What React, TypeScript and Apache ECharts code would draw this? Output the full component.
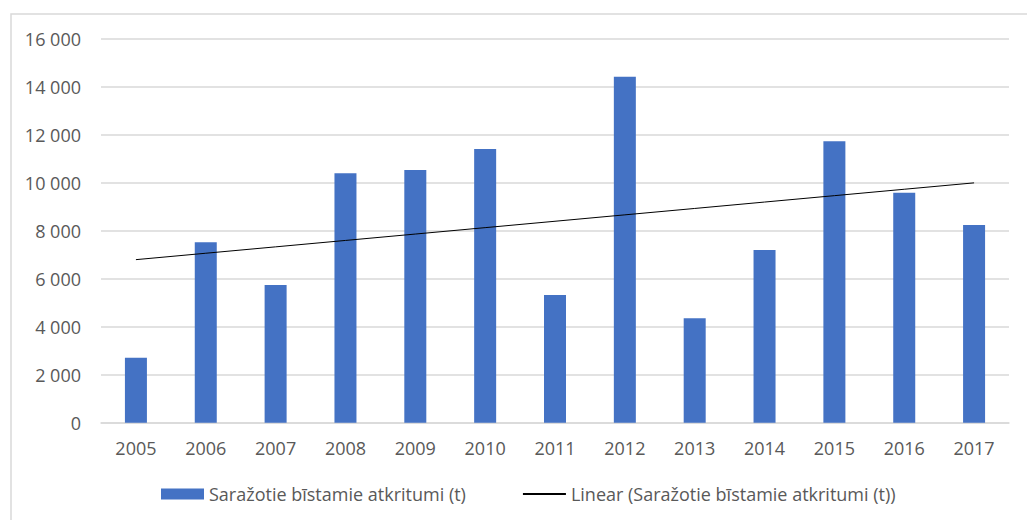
import React, { useEffect, useRef } from "react";
import * as echarts from "echarts";

const years = ["2005", "2006", "2007", "2008", "2009", "2010", "2011", "2012", "2013", "2014", "2015", "2016", "2017"];
const waste = [2710, 7510, 5730, 10390, 10520, 11400, 5320, 14410, 4350, 7190, 11720, 9580, 8230];
const barName = "Saražotie bīstamie atkritumi (t)";
const trendName = "Linear (Saražotie bīstamie atkritumi (t))";

function linearTrend(values: number[]): number[] {
  const n = values.length;
  const mx = (n - 1) / 2;
  const my = values.reduce((a, b) => a + b, 0) / n;
  let sxy = 0;
  let sxx = 0;
  values.forEach((v, i) => {
    sxy += (i - mx) * (v - my);
    sxx += (i - mx) * (i - mx);
  });
  const slope = sxy / sxx;
  return values.map((_, i) => my + slope * (i - mx));
}

const fmt = (v: number) => {
  const s = String(Math.round(v));
  return s.replace(/\B(?=(\d{3})+(?!\d))/g, " ");
};

export default function App() {
  const ref = useRef<HTMLDivElement>(null);
  useEffect(() => {
    if (!ref.current) return;
    const chart = echarts.init(ref.current, undefined, { renderer: "svg" });
    const font = "'Open Sans', 'Noto Sans', sans-serif";
    chart.setOption({
      animation: false,
      backgroundColor: "#ffffff",
      textStyle: { fontFamily: font },
      graphic: [
        {
          type: "rect",
          shape: { x: 11, y: 14, width: 1100, height: 600 },
          style: { fill: "none", stroke: "#d9d9d9", lineWidth: 1.5 },
          silent: true,
        },
      ],
      grid: { left: 101, right: 18, top: 38.5, bottom: 97.3 },
      legend: {
        left: 161,
        top: 485,
        padding: 0,
        itemWidth: 43,
        itemHeight: 11,
        itemGap: 56,
        textStyle: { color: "#595959", fontSize: 18, fontFamily: font },
        data: [
          { name: barName, icon: "rect" },
          { name: trendName, itemStyle: { opacity: 0 } },
        ],
      },
      xAxis: {
        type: "category",
        data: years,
        axisLine: { lineStyle: { color: "#d9d9d9", width: 1.5 } },
        axisTick: { show: false },
        axisLabel: { color: "#595959", fontSize: 18, margin: 16, fontFamily: font },
      },
      yAxis: {
        type: "value",
        min: 0,
        max: 16000,
        interval: 2000,
        axisLine: { show: false },
        axisTick: { show: false },
        splitLine: { lineStyle: { color: "#d9d9d9", width: 1.5 } },
        axisLabel: { color: "#595959", fontSize: 18, margin: 20, fontFamily: font, formatter: fmt },
      },
      series: [
        {
          name: barName,
          type: "bar",
          data: waste,
          barWidth: 22,
          itemStyle: { color: "#4472c4" },
        },
        {
          name: trendName,
          type: "line",
          data: linearTrend(waste),
          symbol: "none",
          lineStyle: { color: "#000000", width: 1 },
          itemStyle: { color: "#000000" },
          z: 5,
        },
      ],
    });
    return () => chart.dispose();
  }, []);
  return (
    <div
      ref={ref}
      style={{ position: "absolute", left: 0, top: 0, width: 1027, height: 520 }}
    />
  );
}
